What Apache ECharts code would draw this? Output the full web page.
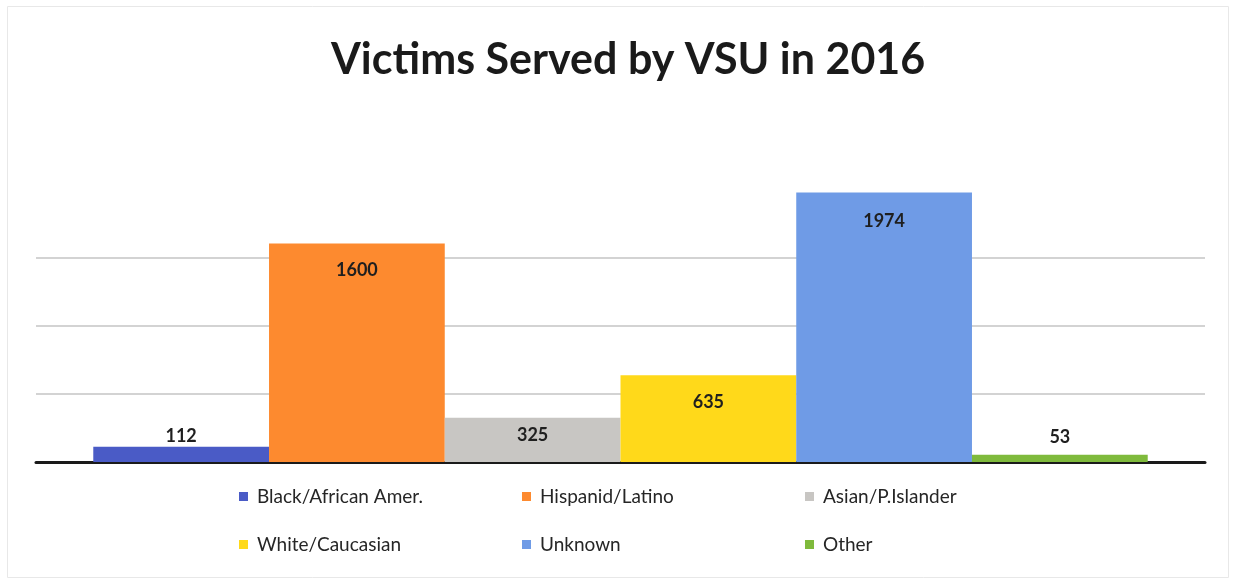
<!DOCTYPE html>
<html>
<head>
<meta charset="utf-8">
<script src="https://cdn.jsdelivr.net/npm/echarts@6/dist/echarts.min.js"></script>
<style>
  html, body { margin: 0; padding: 0; background: #fff; }
  #chart { width: 1234px; height: 584px; }
</style>
</head>
<body>
<div id="chart"></div>
<script>
// Victims served by the unit in 2016, one bar per group
const groups = ['Black/African Amer.', 'Hispanid/Latino', 'Asian/P.Islander', 'White/Caucasian', 'Unknown', 'Other'];
const victims = [112, 1600, 325, 635, 1974, 53];
const colors = ['#4a5bc6', '#fd8a2f', '#c8c6c3', '#ffd91a', '#6f9be6', '#7fba3c'];
const yTicks = [0, 500, 1000, 1500, 2000];

// label placement per bar: short bars get the number above, tall bars inside the top
const labelPos = ['top', 'insideTop', 'insideTop', 'insideTop', 'insideTop', 'top'];
const labelDist = [2, 18, 9, 18, 20, 9];

const font = 'Lato, "Open Sans", sans-serif';

const series = groups.map((name, i) => ({
  name: name,
  type: 'bar',
  data: [victims[i]],
  barGap: 0,
  barCategoryGap: '9.8%',
  itemStyle: { color: colors[i] },
  label: {
    show: true,
    position: labelPos[i],
    distance: labelDist[i],
    fontFamily: font,
    fontWeight: 'bold',
    fontSize: 18,
    color: '#1f1f1f'
  }
}));

// legend laid out in three columns of two rows
const legendCols = [[0, 3], [1, 4], [2, 5]];
const legendLeft = [234, 517, 800];
const legends = legendCols.map((col, c) => ({
  orient: 'vertical',
  left: legendLeft[c],
  top: 482,
  itemGap: 29,
  itemWidth: 9,
  itemHeight: 9,
  icon: 'rect',
  selectedMode: false,
  data: col.map(k => groups[k]),
  textStyle: {
    fontFamily: font,
    fontSize: 19,
    color: '#262626',
    padding: [0, 0, 0, 4]
  }
}));

const chart = echarts.init(document.getElementById('chart'));
chart.setOption({
  backgroundColor: '#ffffff',
  animation: false,
  title: {
    text: 'Victims Served by VSU in 2016',
    left: 326,
    top: 34,
    textStyle: {
      fontFamily: font,
      fontWeight: 'bold',
      fontSize: 43,
      color: '#1a1a1a'
    }
  },
  graphic: [{
    type: 'rect',
    shape: { x: 7.5, y: 6.5, width: 1221, height: 571 },
    style: { fill: 'none', stroke: '#e8e8e8', lineWidth: 1 },
    silent: true
  }],
  legend: legends,
  grid: { left: 36, right: 29, top: 189, bottom: 122 },
  xAxis: {
    type: 'category',
    data: ['2016'],
    axisLine: { show: true, lineStyle: { color: '#1a1a1a', width: 3 } },
    axisTick: { show: false },
    axisLabel: { show: false }
  },
  yAxis: {
    type: 'value',
    min: yTicks[0],
    max: yTicks[yTicks.length - 1],
    interval: yTicks[1] - yTicks[0],
    axisLine: { show: false },
    axisTick: { show: false },
    axisLabel: { show: false },
    splitLine: {
      showMaxLine: false,
      lineStyle: { color: '#c4c4c4', width: 1.5 }
    }
  },
  series: series
});
</script>
</body>
</html>
